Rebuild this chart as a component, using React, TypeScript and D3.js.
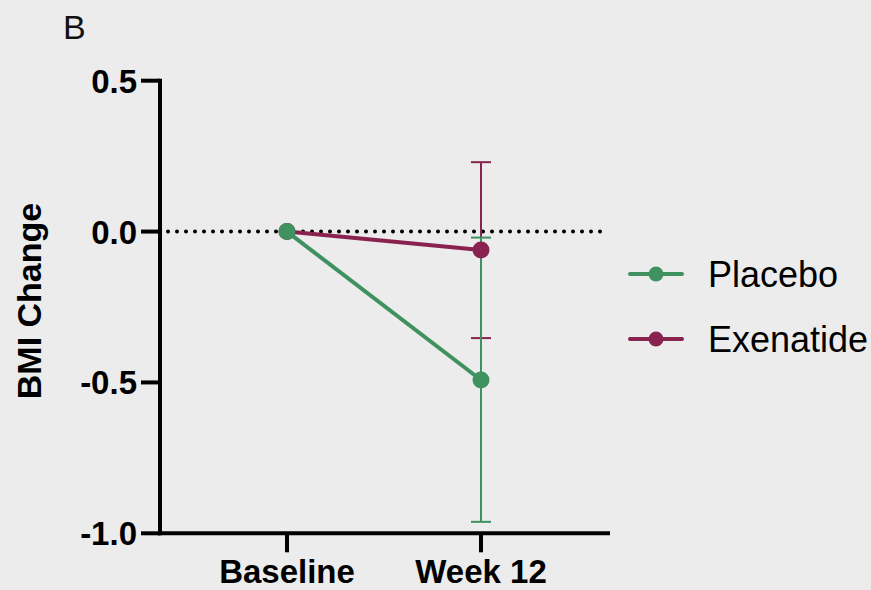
import React from "react";
import * as d3 from "d3";

const categories = ["Baseline", "Week 12"];
const yTicks = [0.5, 0.0, -0.5, -1.0];
const placeboMean = [0, -0.492];
const placeboLow = [0, -0.962];
const placeboHigh = [0, -0.02];
const exenatideMean = [0, -0.061];
const exenatideLow = [0, -0.353];
const exenatideHigh = [0, 0.23];

const GREEN = "#3f9160";
const MAROON = "#8a2250";
const FONT = "'Liberation Sans', Arial, Helvetica, sans-serif";

export default function App() {
  const W = 871, H = 590;
  const axisX = 160;
  const axisY = 533.3;
  const y = d3.scaleLinear().domain([-1, 0.5]).range([533.3, 80.7]);
  const x = d3.scalePoint<string>().domain(categories).range([287, 481]);
  const xEnd = 610;
  const fmt = (t: number) => d3.format(".1f")(t).replace("\u2212", "-");

  const series = [
    { name: "Exenatide", color: MAROON, mean: exenatideMean, low: exenatideLow, high: exenatideHigh },
    { name: "Placebo", color: GREEN, mean: placeboMean, low: placeboLow, high: placeboHigh },
  ];
  const line = d3
    .line<number>()
    .x((_, i) => x(categories[i]) as number)
    .y((d) => y(d));

  const legend = [
    { name: "Placebo", color: GREEN },
    { name: "Exenatide", color: MAROON },
  ];

  return (
    <svg
      width={W}
      height={H}
      style={{ position: "absolute", left: 0, top: 0, background: "#ececec" }}
    >
      <rect x={0} y={0} width={W} height={H} fill="#ececec" />
      <text x={63} y={39} fontFamily={FONT} fontSize={34} fill="#111">B</text>

      {/* zero reference dotted line */}
      <line
        x1={168}
        x2={604}
        y1={y(0)}
        y2={y(0)}
        stroke="#000"
        strokeWidth={4}
        strokeDasharray="0 9"
        strokeLinecap="round"
      />

      {/* error bars */}
      {series.map((s) =>
        categories.map((c, i) =>
          s.low[i] === s.high[i] ? null : (
            <g key={s.name + c} stroke={s.color} strokeWidth={2}>
              <line x1={x(c)} x2={x(c)} y1={y(s.low[i])} y2={y(s.high[i])} />
              <line x1={(x(c) as number) - 10} x2={(x(c) as number) + 10} y1={y(s.low[i])} y2={y(s.low[i])} />
              <line x1={(x(c) as number) - 10} x2={(x(c) as number) + 10} y1={y(s.high[i])} y2={y(s.high[i])} />
            </g>
          )
        )
      )}

      {/* lines and markers */}
      {series.map((s) => (
        <g key={s.name}>
          <path d={line(s.mean) || ""} fill="none" stroke={s.color} strokeWidth={4} />
          {s.mean.map((v, i) => (
            <circle key={i} cx={x(categories[i])} cy={y(v)} r={8.5} fill={s.color} />
          ))}
        </g>
      ))}

      {/* y axis */}
      <line x1={axisX} x2={axisX} y1={y(0.5) - 2} y2={axisY + 2} stroke="#000" strokeWidth={4} />
      {yTicks.map((t) => (
        <g key={t}>
          <line x1={141} x2={axisX} y1={y(t)} y2={y(t)} stroke="#000" strokeWidth={4} />
          <text
            x={137}
            y={y(t) + 12}
            textAnchor="end"
            fontFamily={FONT}
            fontWeight="bold"
            fontSize={33}
            fill="#000"
          >
            {fmt(t)}
          </text>
        </g>
      ))}

      {/* x axis */}
      <line x1={axisX - 2} x2={xEnd} y1={axisY} y2={axisY} stroke="#000" strokeWidth={4} />
      {categories.map((c) => (
        <g key={c}>
          <line x1={x(c)} x2={x(c)} y1={axisY} y2={axisY + 19} stroke="#000" strokeWidth={4} />
          <text
            x={x(c)}
            y={583}
            textAnchor="middle"
            fontFamily={FONT}
            fontWeight="bold"
            fontSize={33}
            fill="#000"
          >
            {c}
          </text>
        </g>
      ))}

      {/* y label */}
      <text
        transform={`translate(41, 301) rotate(-90)`}
        textAnchor="middle"
        fontFamily={FONT}
        fontWeight="bold"
        fontSize={34}
        fill="#000"
      >
        BMI Change
      </text>

      {/* legend */}
      {legend.map((l, i) => (
        <g key={l.name} transform={`translate(0, ${274 + i * 65})`}>
          <line x1={630} x2={682} y1={0} y2={0} stroke={l.color} strokeWidth={4} strokeLinecap="round" />
          <circle cx={656} cy={0} r={7.5} fill={l.color} />
          <text x={708} y={13} fontFamily={FONT} fontSize={36} fill="#000">
            {l.name}
          </text>
        </g>
      ))}
    </svg>
  );
}
